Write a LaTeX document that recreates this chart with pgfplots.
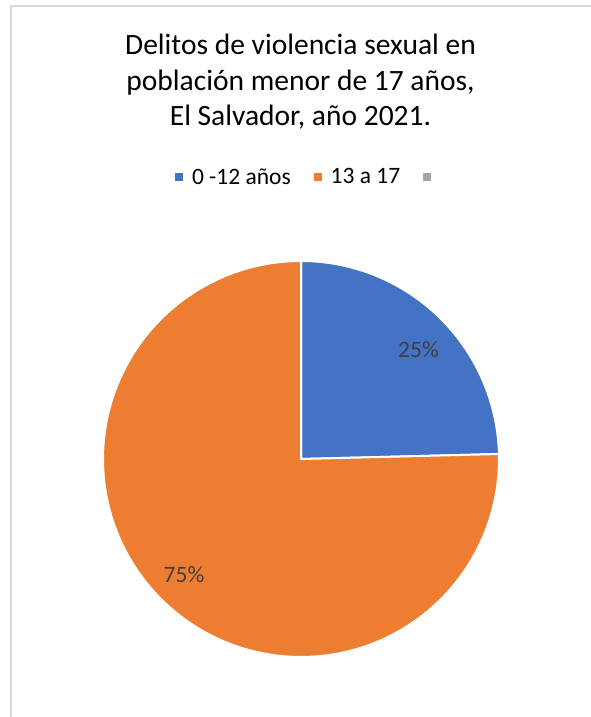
\documentclass[border=0pt]{standalone}
\usepackage{pgfplots}
\pgfplotsset{compat=1.18}
\usepackage{fontspec}
\setmainfont{Carlito}
\definecolor{cblue}{HTML}{4472C4}
\definecolor{corange}{HTML}{ED7D31}
\definecolor{cgray}{HTML}{A5A5A5}
\definecolor{clabel}{HTML}{404040}
\definecolor{cframe}{HTML}{D9D9D9}
% data (percent)
\def\valA{24.6}
\def\valB{75.4}
\begin{document}
\begin{tikzpicture}
\pgfmathsetmacro\angA{3.6*\valA}
\pgfmathsetmacro\angB{3.6*\valB}
\begin{axis}[
  x=1pt, y=1pt, xmin=0, xmax=590, ymin=0, ymax=717,
  anchor=origin, at={(0pt,0pt)},
  hide axis, clip=false,
  legend columns=3,
  legend image code/.code={\fill[#1, draw=none] (0pt,-4pt) rectangle (8pt,4pt);},
  legend style={draw=none, fill=none, inner sep=0pt, outer sep=0pt,
    at={(axis cs:175,540)}, anchor=west,
    font=\fontsize{23.5}{28}\selectfont,
    nodes={inner sep=0pt},
    /tikz/every odd column/.style={column sep=9pt},
    /tikz/every even column/.style={column sep=23pt}},
]
\addplot[fill=cblue, draw=white, line width=2pt, domain=90:90-\angA, samples=120]
  ({301+198*cos(x)},{258+198*sin(x)}) -- (axis cs:301,258) -- cycle;
\addlegendentry{0 -12 años}
\addplot[fill=corange, draw=white, line width=2pt, domain=90-\angA:90-\angA-\angB, samples=300]
  ({301+198*cos(x)},{258+198*sin(x)}) -- (axis cs:301,258) -- cycle;
\addlegendentry{13 a 17}
\addlegendimage{fill=cgray, draw=none}
\addlegendentry{}
\node[font=\fontsize{23.5}{28}\selectfont, text=clabel] at (axis cs:418.5,367.5) {25\%};
\node[font=\fontsize{23.5}{28}\selectfont, text=clabel] at (axis cs:184,142.5) {75\%};
\node[font=\fontsize{29.5}{34}\selectfont, anchor=base] at (axis cs:300.5,662) {Delitos de violencia sexual en};
\node[font=\fontsize{29.5}{34}\selectfont, anchor=base] at (axis cs:300.5,626) {población menor de 17 años,};
\node[font=\fontsize{29.5}{34}\selectfont, anchor=base] at (axis cs:300.5,591) {El Salvador, año 2021.};
\end{axis}
\draw[cframe, line width=1.5pt] (11pt,-10pt) -- (11pt,711pt) -- (600pt,711pt);
\pgfresetboundingbox
\useasboundingbox (0pt,0pt) rectangle (590pt,717pt);
\end{tikzpicture}
\end{document}
